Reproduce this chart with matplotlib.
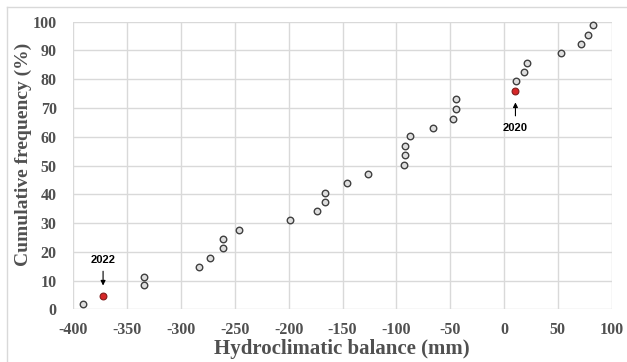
import matplotlib.pyplot as plt
from matplotlib.lines import Line2D

plt.rcParams["axes.unicode_minus"] = False

# Hydroclimatic balance (mm) and cumulative frequency (%)
balance = [-391.3, -372.4, -334.4, -334.1, -283.1, -273.5, -261.1, -261.1,
           -246.3, -198.7, -173.3, -166.5, -166.3, -145.5, -126.3, -93.0,
           -92.0, -92.0, -87.7, -66.3, -47.2, -44.7, -44.7, 10.6, 10.9,
           18.3, 21.5, 52.7, 71.9, 78.4, 82.4]
frequency = [1.7, 4.7, 8.3, 11.3, 14.6, 17.9, 21.2, 24.3, 27.6, 30.9, 34.2,
             37.3, 40.5, 43.8, 47.2, 50.2, 53.5, 56.7, 60.1, 63.1, 66.3, 69.7,
             73.0, 75.8, 79.3, 82.6, 85.8, 89.2, 92.2, 95.4, 98.7]
highlight_years = ["2022", "2020"]
highlight_idx = [1, 23]

x_ticks = [-400, -350, -300, -250, -200, -150, -100, -50, 0, 50, 100]
y_ticks = [0, 10, 20, 30, 40, 50, 60, 70, 80, 90, 100]

serif = ["Liberation Serif", "DejaVu Serif"]
grey = "#505050"

fig = plt.figure(figsize=(6.27, 3.62), dpi=100)
ax = fig.add_axes([0.117, 0.1456, 0.8586, 0.7944])

normal = [i for i in range(len(balance)) if i not in highlight_idx]
ax.scatter([balance[i] for i in normal], [frequency[i] for i in normal],
           s=22, facecolor="#dedede", edgecolor="#404040", linewidth=1.0,
           zorder=3, clip_on=False)
ax.scatter([balance[i] for i in highlight_idx],
           [frequency[i] for i in highlight_idx],
           s=24, facecolor="#d62728", edgecolor="#7f1d1d", linewidth=0.8,
           zorder=4, clip_on=False)

# arrows + year labels
# 2022: label above, arrow pointing down
ax.annotate("", xy=(balance[1], frequency[1] + 2.6),
            xytext=(balance[1], frequency[1] + 9.5),
            arrowprops=dict(arrowstyle="-|>", color="black", lw=0.8,
                            mutation_scale=7))
ax.text(balance[1], frequency[1] + 12.4, highlight_years[0], ha="center",
        va="center", fontsize=8, fontweight="bold", family="Liberation Sans")
# 2020: label below, arrow pointing up
ax.annotate("", xy=(balance[23], frequency[23] - 2.9),
            xytext=(balance[23], frequency[23] - 9.5),
            arrowprops=dict(arrowstyle="-|>", color="black", lw=0.8,
                            mutation_scale=7))
ax.text(balance[23], frequency[23] - 12.6, highlight_years[1], ha="center",
        va="center", fontsize=8, fontweight="bold", family="Liberation Sans")

ax.set_xlim(-400, 100)
ax.set_ylim(0, 100)
ax.set_xticks(x_ticks)
ax.set_yticks(y_ticks)
ax.grid(True, color="#d9d9d9", linewidth=1.0)
ax.set_axisbelow(True)
for s in ax.spines.values():
    s.set_visible(False)
ax.tick_params(length=0, labelsize=11.5, labelcolor=grey)
ax.tick_params(axis="x", pad=9)
ax.tick_params(axis="y", pad=12)
for lab in ax.get_xticklabels() + ax.get_yticklabels():
    lab.set_family(serif)
    lab.set_fontweight("bold")

ax.set_xlabel("Hydroclimatic balance (mm)", fontsize=15, fontweight="bold",
              family=serif, color=grey)
ax.set_ylabel("Cumulative frequency (%)", fontsize=14, fontweight="bold",
              family=serif, color=grey)
ax.xaxis.set_label_coords(0.498, -0.105)
ax.yaxis.set_label_coords(-0.077, 0.54)

# chart area border (top and left edges visible)
fig.add_artist(Line2D([7 / 627, 1], [1 - 7 / 362, 1 - 7 / 362],
                      transform=fig.transFigure, color="#d9d9d9", lw=1))
fig.add_artist(Line2D([7 / 627, 7 / 627], [0, 1 - 7 / 362],
                      transform=fig.transFigure, color="#d9d9d9", lw=1))

fig.savefig("out.png", dpi=100)
